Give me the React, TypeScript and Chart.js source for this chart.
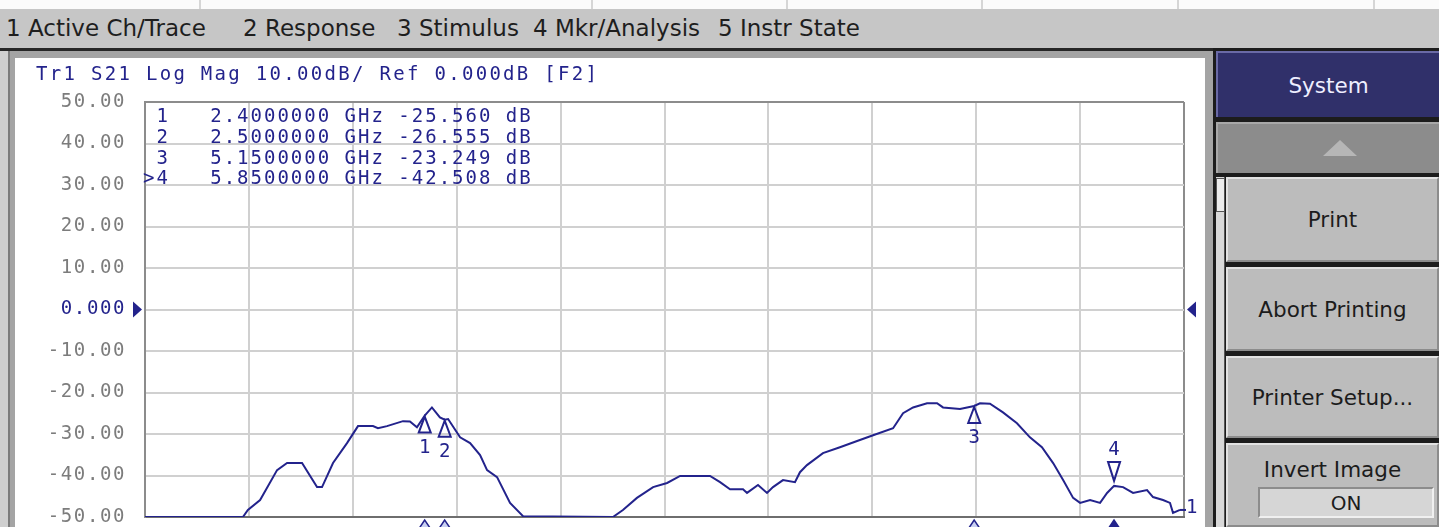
import React, { useEffect, useRef } from 'react';
import { Chart, registerables } from 'chart.js';

Chart.register(...registerables);

// ---------- data ----------
const X_START = 1.0; // GHz
const X_STOP = 6.2; // GHz
const xGridLines = [1.0, 1.52, 2.04, 2.56, 3.08, 3.6, 4.12, 4.64, 5.16, 5.68, 6.2];
const yTickValues = [50, 40, 30, 20, 10, 0, -10, -20, -30, -40, -50];
const yTickLabels = ['50.00', '40.00', '30.00', '20.00', '10.00', '0.000', '-10.00', '-20.00', '-30.00', '-40.00', '-50.00'];

const traceFreq = [
  1.0, 1.49, 1.515, 1.576, 1.661, 1.711, 1.786, 1.861, 1.886, 1.941, 2.011, 2.066, 2.141, 2.166, 2.211,
  2.291, 2.326, 2.361, 2.4, 2.436, 2.476, 2.5, 2.517, 2.577, 2.627, 2.677, 2.712, 2.762, 2.827, 2.892,
  3.342, 3.392, 3.462, 3.543, 3.613, 3.678, 3.743, 3.828, 3.878, 3.928, 3.993, 4.013, 4.068, 4.113,
  4.143, 4.193, 4.253, 4.278, 4.313, 4.393, 4.478, 4.564, 4.644, 4.744, 4.794, 4.844, 4.914, 4.964,
  4.994, 5.079, 5.15, 5.179, 5.229, 5.294, 5.364, 5.429, 5.489, 5.545, 5.595, 5.645, 5.68, 5.73, 5.78,
  5.815, 5.85, 5.895, 5.945, 6.015, 6.045, 6.095, 6.13, 6.145, 6.18,
];
const traceDb = [
  -50, -50, -48.3, -45.9, -38.7, -37.0, -37.0, -42.8, -42.8, -37.0, -32.2, -28.1, -28.1, -28.6, -28.1,
  -26.9, -27.0, -28.4, -25.56, -23.6, -26.0, -26.555, -26.4, -30.8, -32.2, -35.1, -38.7, -40.4, -46.6, -49.8,
  -50, -48.3, -45.4, -42.8, -41.8, -40.1, -40.1, -40.1, -41.6, -43.3, -43.3, -44.2, -42.3, -44.2,
  -42.8, -41.1, -41.6, -39.2, -37.5, -34.6, -33.2, -31.7, -30.3, -28.6, -25.0, -23.6, -22.6, -22.6,
  -23.6, -24.0, -23.249, -22.6, -22.7, -24.8, -27.4, -30.8, -33.2, -37.0, -41.1, -45.4, -46.6, -45.9, -46.6,
  -44.2, -42.508, -42.8, -44.2, -43.5, -45.2, -45.9, -46.6, -49.0, -48.3,
];

const markerNames = ['1', '2', '3', '4'];
const markerRowLabels = ['1', '2', '3', '>4'];
const markerFreq = [2.4, 2.5, 5.15, 5.85];
const markerDb = [-25.56, -26.555, -23.249, -42.508];
const markerBelow = [true, true, true, false];
const activeMarker = 3;

const titleText = 'Tr1 S21 Log Mag 10.00dB/ Ref 0.000dB [F2]';
const menuItems = ['1 Active Ch/Trace', '2 Response', '3 Stimulus', '4 Mkr/Analysis', '5 Instr State'];
const softkeys = ['Print', 'Abort Printing', 'Printer Setup...'];
const invertLabel = 'Invert Image';
const invertState = 'ON';
const systemLabel = 'System';

// ---------- styling / layout ----------
const NAVY = '#23238c';
const MONO = '"DejaVu Sans Mono", monospace';
const SANS = '"DejaVu Sans", sans-serif';
const menuX = [6, 243, 397, 533, 718];
const softkeyTops = [177, 267, 356];
const softkeyHeights = [85, 84, 82];
const topStripLines = [199, 591, 786, 981, 1177, 1373];
const markerRowCenters = [115, 136, 157, 177];

const markerPlugin = {
  id: 'vnaMarkers',
  beforeDraw(chart: any) {
    chart.ctx.letterSpacing = '1.6px';
  },
  afterDatasetsDraw(chart: any) {
    const { ctx, chartArea } = chart;
    const xs = chart.scales.x;
    const ys = chart.scales.y;
    ctx.save();
    ctx.letterSpacing = '0px';
    ctx.strokeStyle = NAVY;
    ctx.fillStyle = NAVY;
    ctx.lineWidth = 2;
    ctx.font = `19px ${MONO}`;
    ctx.textAlign = 'center';
    ctx.textBaseline = 'middle';
    markerFreq.forEach((f, i) => {
      const px = xs.getPixelForValue(f);
      const py = ys.getPixelForValue(markerDb[i]);
      ctx.beginPath();
      if (markerBelow[i]) {
        ctx.moveTo(px, py + 1);
        ctx.lineTo(px - 6, py + 17);
        ctx.lineTo(px + 6, py + 17);
        ctx.closePath();
        ctx.stroke();
        ctx.fillText(markerNames[i], px, py + 32);
      } else {
        ctx.moveTo(px, py - 5);
        ctx.lineTo(px - 6, py - 24);
        ctx.lineTo(px + 6, py - 24);
        ctx.closePath();
        ctx.stroke();
        ctx.fillText(markerNames[i], px, py - 36);
      }
      // stimulus indicator on the bottom edge
      const by = chartArea.bottom + 3;
      ctx.beginPath();
      ctx.moveTo(px, by);
      ctx.lineTo(px - 8, by + 12);
      ctx.lineTo(px + 8, by + 12);
      ctx.closePath();
      ctx.fillStyle = i === activeMarker ? NAVY : '#c9d0f2';
      ctx.fill();
      ctx.lineWidth = 1.5;
      ctx.stroke();
      ctx.lineWidth = 2;
      ctx.fillStyle = NAVY;
    });

    // reference level arrows
    const ry = ys.getPixelForValue(0);
    ctx.beginPath();
    ctx.moveTo(chartArea.left - 12, ry - 8);
    ctx.lineTo(chartArea.left - 3, ry);
    ctx.lineTo(chartArea.left - 12, ry + 8);
    ctx.closePath();
    ctx.fill();
    ctx.beginPath();
    ctx.moveTo(chartArea.right + 12, ry - 8);
    ctx.lineTo(chartArea.right + 3, ry);
    ctx.lineTo(chartArea.right + 12, ry + 8);
    ctx.closePath();
    ctx.fill();

    // trace end label
    const lx = xs.getPixelForValue(traceFreq[traceFreq.length - 1]);
    const lyv = ys.getPixelForValue(traceDb[traceDb.length - 1]);
    ctx.beginPath();
    ctx.moveTo(lx, lyv);
    ctx.lineTo(lx + 6, lyv);
    ctx.stroke();
    ctx.textAlign = 'left';
    ctx.fillText('1', lx + 6, lyv - 2);
    ctx.restore();
  },
  afterDraw(chart: any) {
    chart.ctx.letterSpacing = '0px';
  },
};

function VnaChart() {
  const ref = useRef<HTMLCanvasElement | null>(null);
  useEffect(() => {
    if (!ref.current) return;
    const edgeX = (c: any) =>
      c.tick && (Math.abs(c.tick.value - X_START) < 1e-6 || Math.abs(c.tick.value - X_STOP) < 1e-6) ? '#8c8c8c' : '#d0d0d0';
    const edgeY = (c: any) => (c.tick && (c.tick.value === 50 || c.tick.value === -50) ? '#8c8c8c' : '#d0d0d0');
    const chart = new Chart(ref.current, {
      type: 'line',
      data: {
        datasets: [
          {
            data: traceFreq.map((f, i) => ({ x: f, y: traceDb[i] })),
            borderColor: NAVY,
            borderWidth: 2,
            pointRadius: 0,
            tension: 0,
            fill: false,
          },
        ],
      },
      options: {
        animation: false,
        responsive: false,
        maintainAspectRatio: false,
        events: [],
        layout: { padding: { top: 44, right: 21, bottom: 10, left: 0 } },
        plugins: { legend: { display: false }, tooltip: { enabled: false }, title: { display: false } },
        scales: {
          x: {
            type: 'linear',
            min: X_START,
            max: X_STOP,
            afterBuildTicks: (s: any) => {
              s.ticks = xGridLines.map((v) => ({ value: v }));
            },
            afterFit: (s: any) => {
              s.height = 0;
              s.paddingLeft = 0;
              s.paddingRight = 0;
              s.paddingTop = 0;
              s.paddingBottom = 0;
            },
            ticks: { display: false },
            grid: { color: edgeX, lineWidth: 2, drawTicks: false },
            border: { display: true, color: '#6e6e6e', width: 2 },
          },
          y: {
            type: 'linear',
            min: -50,
            max: 50,
            afterBuildTicks: (s: any) => {
              s.ticks = yTickValues.map((v) => ({ value: v }));
            },
            afterFit: (s: any) => {
              s.width = 130;
              s.paddingTop = 0;
              s.paddingBottom = 0;
              s.paddingLeft = 0;
              s.paddingRight = 0;
            },
            ticks: {
              padding: 19,
              font: { family: 'DejaVu Sans Mono', size: 19 },
              color: (c: any) => (c.tick && c.tick.value === 0 ? NAVY : '#7c7c7c'),
              callback: (v: any) => {
                const idx = yTickValues.indexOf(Number(v));
                return idx >= 0 ? yTickLabels[idx] : '';
              },
            },
            grid: { color: edgeY, lineWidth: 2, drawTicks: false },
            border: { display: true, color: '#8c8c8c', width: 2 },
          },
        },
      } as any,
      plugins: [markerPlugin],
    });
    return () => chart.destroy();
  }, []);
  return (
    <canvas
      ref={ref}
      width={1190}
      height={469}
      style={{ position: 'absolute', left: 15, top: 58, width: 1190, height: 469 }}
    />
  );
}

const abs = (s: React.CSSProperties): React.CSSProperties => ({ position: 'absolute', boxSizing: 'border-box', ...s });

const buttonStyle: React.CSSProperties = {
  background: '#bcbcbc',
  borderTop: '2px solid #e2e2e2',
  borderLeft: '2px solid #e2e2e2',
  borderBottom: '2px solid #8c8c8c',
  borderRight: '2px solid #8c8c8c',
  color: '#1c1c1c',
  fontFamily: SANS,
  fontSize: 21.5,
  display: 'flex',
  alignItems: 'center',
  justifyContent: 'center',
  whiteSpace: 'pre',
};

export default function App() {
  const rows = markerRowLabels.map(
    (l, i) => l.padStart(2, ' ') + '   ' + markerFreq[i].toFixed(7) + ' GHz ' + markerDb[i].toFixed(3) + ' dB'
  );
  return (
    <div
      style={{
        position: 'fixed',
        left: 0,
        top: 0,
        width: 1439,
        height: 527,
        overflow: 'hidden',
        background: '#c6c6c6',
      }}
    >
      {/* top strip */}
      <div style={abs({ left: 0, top: 0, width: 1439, height: 9, background: '#fbfbfb' })} />
      {topStripLines.map((x, i) => (
        <div key={i} style={abs({ left: x, top: 0, width: 2, height: 9, background: '#d6d6d6' })} />
      ))}
      {/* menu bar */}
      <div style={abs({ left: 0, top: 9, width: 1439, height: 39, background: '#c6c6c6' })} />
      {menuItems.map((m, i) => (
        <div
          key={m}
          style={abs({
            left: menuX[i],
            top: 14,
            height: 28,
            lineHeight: '28px',
            fontFamily: SANS,
            fontSize: 23,
            color: '#1e1e1e',
            whiteSpace: 'pre',
          })}
        >
          {m}
        </div>
      ))}
      <div style={abs({ left: 0, top: 48, width: 1439, height: 3, background: '#262626' })} />
      {/* left & main frame */}
      <div style={abs({ left: 0, top: 51, width: 1213, height: 476, background: '#a4a4a4' })} />
      <div style={abs({ left: 0, top: 51, width: 8, height: 476, background: '#cfcfcf' })} />
      <div style={abs({ left: 8, top: 51, width: 2, height: 476, background: '#7c7c7c' })} />
      <div style={abs({ left: 15, top: 58, width: 1190, height: 469, background: '#ffffff' })} />
      <VnaChart />
      {/* title */}
      <div
        style={abs({
          left: 36,
          top: 62,
          height: 22,
          lineHeight: '22px',
          fontFamily: MONO,
          fontSize: 19,
          letterSpacing: '2.3px',
          color: NAVY,
          whiteSpace: 'pre',
        })}
      >
        {titleText}
      </div>
      {/* marker table */}
      {rows.map((r, i) => (
        <div
          key={i}
          style={abs({
            left: 143,
            top: markerRowCenters[i] - 10,
            height: 20,
            lineHeight: '20px',
            fontFamily: MONO,
            fontSize: 19,
            letterSpacing: '2.0px',
            color: NAVY,
            whiteSpace: 'pre',
          })}
        >
          {r}
        </div>
      ))}
      {/* right softkey panel */}
      <div style={abs({ left: 1213, top: 48, width: 226, height: 479, background: '#1c1c1c' })} />
      <div
        style={abs({
          left: 1216,
          top: 51,
          width: 223,
          height: 66,
          background: '#30306a',
          borderTop: '2px solid #6a6aa6',
          borderLeft: '2px solid #6a6aa6',
          color: '#eeeeff',
          fontFamily: SANS,
          fontSize: 21.5,
          display: 'flex',
          alignItems: 'center',
          justifyContent: 'center',
        })}
      >
        {systemLabel}
      </div>
      <div
        style={abs({
          left: 1216,
          top: 122,
          width: 223,
          height: 51,
          background: '#8c8c8c',
          borderTop: '2px solid #a8a8a8',
          borderLeft: '2px solid #a8a8a8',
        })}
      />
      <div
        style={abs({
          left: 1323,
          top: 140,
          width: 0,
          height: 0,
          borderLeft: '17px solid transparent',
          borderRight: '17px solid transparent',
          borderBottom: '16px solid #b6b6b6',
        })}
      />
      {/* scroll strip */}
      <div style={abs({ left: 1216, top: 177, width: 9, height: 350, background: '#d8d8d8', borderRight: '1px solid #555' })} />
      <div style={abs({ left: 1216, top: 178, width: 9, height: 34, background: '#ececec', border: '1px solid #555' })} />
      {softkeys.map((s, i) => (
        <div key={s} style={abs({ left: 1226, top: softkeyTops[i], width: 213, height: softkeyHeights[i], ...buttonStyle })}>
          {s}
        </div>
      ))}
      <div style={abs({ left: 1226, top: 443, width: 213, height: 84, ...buttonStyle, alignItems: 'flex-start', paddingTop: 12 })}>
        {invertLabel}
      </div>
      <div
        style={abs({
          left: 1258,
          top: 487,
          width: 176,
          height: 31,
          background: '#d6d6d6',
          borderTop: '2px solid #8c8c8c',
          borderLeft: '2px solid #8c8c8c',
          borderBottom: '2px solid #f0f0f0',
          borderRight: '2px solid #f0f0f0',
          color: '#1c1c1c',
          fontFamily: SANS,
          fontSize: 20,
          display: 'flex',
          alignItems: 'center',
          justifyContent: 'center',
        })}
      >
        {invertState}
      </div>
    </div>
  );
}
